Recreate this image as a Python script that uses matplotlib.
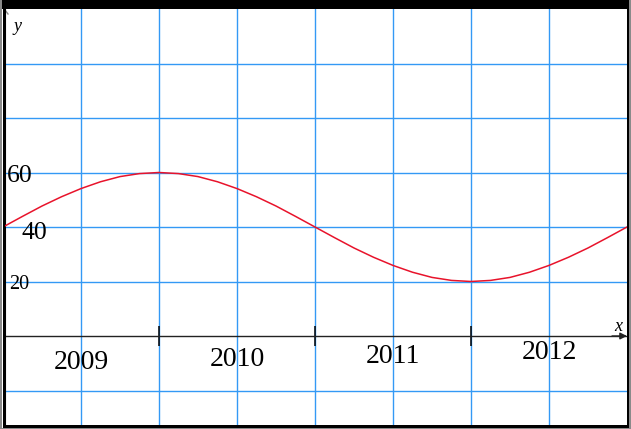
import matplotlib
matplotlib.use("Agg")
import matplotlib.pyplot as plt
from matplotlib.patches import Rectangle

# ---- data ----
t_years = [0, 0.125, 0.25, 0.375, 0.5, 0.625, 0.75, 0.875,
           1.0, 1.125, 1.25, 1.375, 1.5, 1.625, 1.75, 1.875,
           2.0, 2.125, 2.25, 2.375, 2.5, 2.625, 2.75, 2.875,
           3.0, 3.125, 3.25, 3.375, 3.5, 3.625, 3.75, 3.875, 4.0]
y_values = [40, 43.9, 47.7, 51.1, 54.1, 56.6, 58.5, 59.6,
            60, 59.6, 58.5, 56.6, 54.1, 51.1, 47.7, 43.9,
            40, 36.1, 32.3, 28.9, 25.9, 23.4, 21.5, 20.4,
            20, 20.4, 21.5, 23.4, 25.9, 28.9, 32.3, 36.1, 40]
year_labels = ["2009", "2010", "2011", "2012"]
year_label_x = [0.5, 1.5, 2.5, 3.5]
year_ticks = [1, 2, 3]
y_label_values = ["60", "40", "20"]

W, H = 631, 429
fig = plt.figure(figsize=(W / 100, H / 100), dpi=100)
fig.patch.set_facecolor("white")

# axes placed by pixels
L, R, T, B = 5, 627, 9, 425
ax = fig.add_axes([L / W, (H - B) / H, (R - L) / W, (B - T) / H])

# pixel <-> data mapping (x: t=0 at px 3, 156 px / year; y: 0 at px 336, 2.725 px / unit)
def px2x(px):
    return (px - 3) / 156.0

def px2y(py):
    return (336 - py) / 2.725

ax.set_xlim(px2x(L), px2x(R))
ax.set_ylim(px2y(B), px2y(T))

grid_c = "#3399f5"
for xv in [0.5, 1.0, 1.5, 2.0, 2.5, 3.0, 3.5]:
    ax.axvline(xv, color=grid_c, lw=1.0, zorder=1)
for yv in [-20, 20, 40, 60, 80, 100]:
    ax.axhline(yv, color=grid_c, lw=1.0, zorder=1)

# axes as spines
for s in ["top", "right"]:
    ax.spines[s].set_visible(False)
ax.spines["bottom"].set_position(("data", 0))
ax.spines["bottom"].set_color("#222222")
ax.spines["bottom"].set_linewidth(1.0)
ax.spines["bottom"].set_zorder(2)
ax.spines["left"].set_color("black")
ax.spines["left"].set_linewidth(1.5)

ax.set_xticks(year_ticks)
ax.set_xticklabels([])
ax.tick_params(axis="x", direction="inout", length=15, width=1.1, color="black")
ax.set_yticks([])

# curve
ax.plot(t_years, y_values, color="#e8132b", lw=1.1, zorder=3, clip_on=True)

serif = ["Liberation Serif", "DejaVu Serif"]
label_base = [369, 366, 363, 359]
for lab, xv, bp in zip(year_labels, year_label_x, label_base):
    ax.text(xv, px2y(bp), lab, ha="center", va="baseline", fontsize=20,
            family=serif, color="black", zorder=4)

ylab_pos = [(19.5, 182, 18.5), (34.5, 239, 18.5), (19.5, 289, 14.5)]
for lab, (cx, bp, fs) in zip(y_label_values, ylab_pos):
    ax.text(px2x(cx), px2y(bp), lab, ha="center", va="baseline", fontsize=fs,
            family=serif, color="black", zorder=4)

# axis names
ax.text(px2x(18), px2y(31), "y", ha="center", va="baseline", fontsize=13,
        family=serif, style="italic", color="black")
ax.text(px2x(618), px2y(331), "x", ha="center", va="baseline", fontsize=13,
        family=serif, style="italic", color="black")

# arrow at the end of x axis
ax.annotate("", xy=(px2x(627), 0), xytext=(px2x(612), 0),
            arrowprops=dict(arrowstyle="-|>", color="#222222", lw=1.0,
                            mutation_scale=10, shrinkA=0, shrinkB=0),
            annotation_clip=False, zorder=5)
# small mark of y axis arrow at top
ax.plot([px2x(5), px2x(8)], [px2y(10), px2y(14)], color="#888888", lw=1.0,
        clip_on=False)

# outer frame (figure pixels)
def frect(x0, y0, x1, y1, c):
    fig.patches.append(Rectangle((x0 / W, (H - y1) / H), (x1 - x0) / W,
                                 (y1 - y0) / H, transform=fig.transFigure,
                                 facecolor=c, edgecolor="none", zorder=10))

frect(0, 0, 2, H, "#8a8a8a")        # left gray
frect(629, 0, W, H, "#8a8a8a")      # right gray
frect(0, 428, W, H, "#8a8a8a")      # bottom gray
frect(2, 0, 629, 9, "black")        # top black band
frect(3, 0, 5, 428, "black")        # left black
frect(627, 0, 629, 428, "black")    # right black
frect(3, 425, 629, 428, "black")    # bottom black

fig.savefig("out.png", dpi=100, facecolor="white")
